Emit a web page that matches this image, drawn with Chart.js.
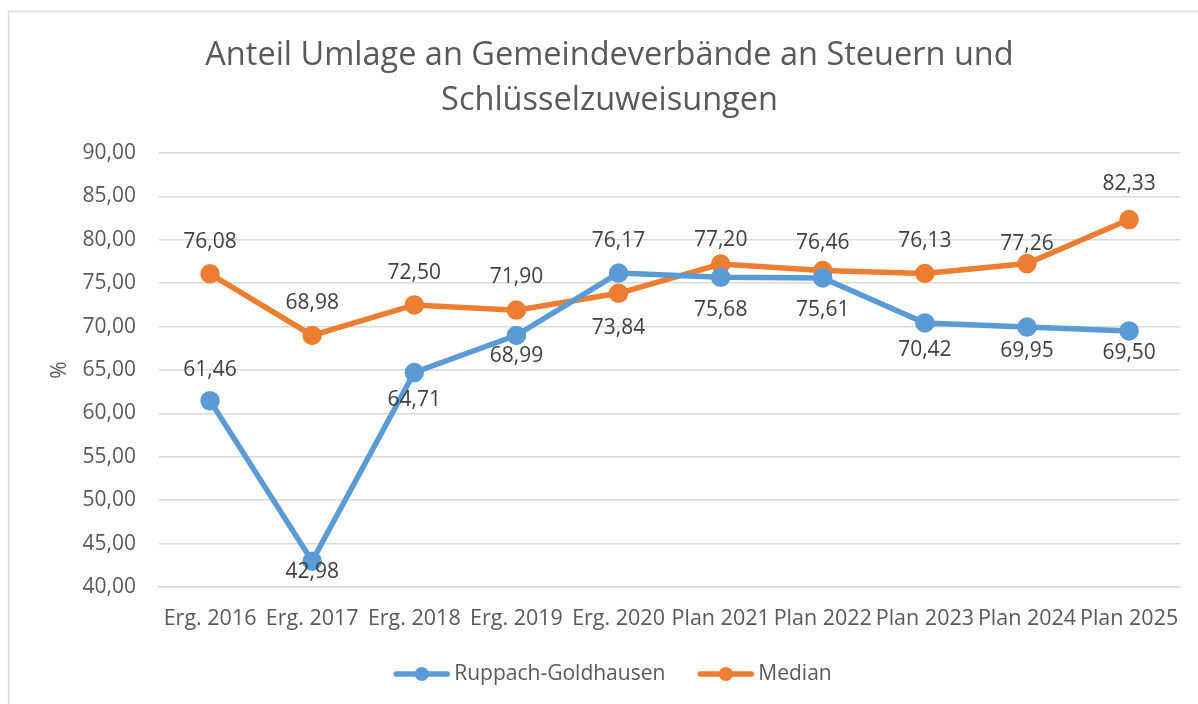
<!DOCTYPE html>
<html>
<head>
<meta charset="utf-8">
<script src="https://cdn.jsdelivr.net/npm/chart.js"></script>
<style>
  html, body { margin: 0; padding: 0; background: #fff; }
  #rahmen { position: relative; width: 1198px; height: 704px; }
</style>
</head>
<body>
<div id="rahmen"><canvas id="grafikUmlage"></canvas></div>
<script>
// --- Daten ---
const kategorien = ['Erg. 2016', 'Erg. 2017', 'Erg. 2018', 'Erg. 2019', 'Erg. 2020',
                    'Plan 2021', 'Plan 2022', 'Plan 2023', 'Plan 2024', 'Plan 2025'];
const werteRuppach = [61.46, 42.98, 64.71, 68.99, 76.17, 75.68, 75.61, 70.42, 69.95, 69.50];
const werteMedian = [76.08, 68.98, 72.50, 71.90, 73.84, 77.20, 76.46, 76.13, 77.26, 82.33];
const yMin = 40, yMax = 90, ySchritt = 5;

// Versatz der Datenbeschriftungen (px, negativ = oberhalb)
const versatzRuppach = [-31, 11, 27, 21, -32, 33, 32, 27, 24, 22];
const versatzMedian = [-32, -32, -32, -33, 35, -24, -28, -32, -20, -36];

const schrift = "'Open Sans', 'Noto Sans', sans-serif";
const textFarbe = '#595959';
const zahl = v => v.toFixed(2).replace('.', ',');

// Rahmen um das Diagramm
const rahmenPlugin = {
  id: 'rahmen',
  beforeDraw(chart) {
    const ctx = chart.ctx;
    ctx.save();
    ctx.fillStyle = '#fff';
    ctx.fillRect(0, 0, chart.width, chart.height);
    ctx.strokeStyle = '#d9d9d9';
    ctx.lineWidth = 1.5;
    ctx.strokeRect(8.5, 11.5, chart.width + 20, chart.height + 20);
    ctx.restore();
  }
};

// Datenbeschriftungen
const beschriftungPlugin = {
  id: 'beschriftung',
  afterDatasetsDraw(chart) {
    const ctx = chart.ctx;
    ctx.save();
    ctx.font = '21px ' + schrift;
    ctx.fillStyle = '#404040';
    ctx.textAlign = 'center';
    ctx.textBaseline = 'middle';
    chart.data.datasets.forEach((ds, i) => {
      const meta = chart.getDatasetMeta(i);
      meta.data.forEach((pt, j) => {
        ctx.fillText(zahl(ds.data[j]), pt.x, pt.y + ds.versatz[j]);
      });
    });
    ctx.restore();
  }
};

// Legende unten (Linie mit Punkt)
const legendePlugin = {
  id: 'legende',
  afterDraw(chart) {
    const ctx = chart.ctx;
    const symbolBreite = 55, abstandText = 5, abstandEintrag = 33;
    ctx.save();
    ctx.font = '21px ' + schrift;
    const eintraege = chart.data.datasets.map(ds => ({
      text: ds.label, farbe: ds.borderColor, breite: ctx.measureText(ds.label).width
    }));
    let gesamt = 0;
    eintraege.forEach((e, i) => {
      gesamt += symbolBreite + abstandText + e.breite + (i > 0 ? abstandEintrag : 0);
    });
    let x = 613 - gesamt / 2;
    const y = 674;
    eintraege.forEach(e => {
      ctx.strokeStyle = e.farbe;
      ctx.lineWidth = 5.5;
      ctx.lineCap = 'round';
      ctx.beginPath();
      ctx.moveTo(x + 2, y);
      ctx.lineTo(x + symbolBreite - 2, y);
      ctx.stroke();
      ctx.fillStyle = e.farbe;
      ctx.beginPath();
      ctx.arc(x + symbolBreite / 2, y, 7, 0, Math.PI * 2);
      ctx.fill();
      ctx.fillStyle = textFarbe;
      ctx.textAlign = 'left';
      ctx.textBaseline = 'middle';
      ctx.fillText(e.text, x + symbolBreite + abstandText, y);
      x += symbolBreite + abstandText + e.breite + abstandEintrag;
    });
    ctx.restore();
  }
};

new Chart(document.getElementById('grafikUmlage'), {
  type: 'line',
  data: {
    labels: kategorien,
    datasets: [{
      label: 'Ruppach-Goldhausen',
      data: werteRuppach,
      versatz: versatzRuppach,
      borderColor: '#5b9bd5',
      backgroundColor: '#5b9bd5',
      borderWidth: 5.5,
      pointRadius: 7,
      pointHoverRadius: 7,
      tension: 0
    }, {
      label: 'Median',
      data: werteMedian,
      versatz: versatzMedian,
      borderColor: '#ed7d31',
      backgroundColor: '#ed7d31',
      borderWidth: 5.5,
      pointRadius: 7,
      pointHoverRadius: 7,
      tension: 0
    }]
  },
  options: {
    responsive: true,
    maintainAspectRatio: false,
    animation: false,
    devicePixelRatio: 1,
    layout: { padding: { left: 36, right: 15, top: 0, bottom: 67 } },
    plugins: {
      legend: { display: false },
      tooltip: { enabled: false },
      title: {
        display: true,
        text: ['Anteil Umlage an Gemeindeverbände an Steuern und', 'Schlüsselzuweisungen'],
        color: textFarbe,
        font: { family: schrift, size: 32.5, weight: 'normal', lineHeight: 1.385 },
        padding: { top: 33, bottom: 30 }
      }
    },
    scales: {
      x: {
        offset: true,
        grid: { display: false, drawTicks: false },
        border: { display: true, color: '#d9d9d9', width: 1.5 },
        ticks: { color: textFarbe, font: { family: schrift, size: 21.5 }, padding: 19, maxRotation: 0, autoSkip: false },
        afterFit(scale) { scale.height = 50; }
      },
      y: {
        min: yMin,
        max: yMax,
        grid: { color: '#d9d9d9', lineWidth: 1.5, drawTicks: false },
        border: { display: false },
        ticks: {
          stepSize: ySchritt,
          color: textFarbe,
          font: { family: schrift, size: 21 },
          padding: 23,
          callback: v => zahl(v)
        },
        title: {
          display: true,
          text: '%',
          color: textFarbe,
          font: { family: schrift, size: 21 },
          padding: { top: 11, bottom: 0 }
        },
        afterFit(scale) { scale.width = 123; }
      }
    }
  },
  plugins: [rahmenPlugin, beschriftungPlugin, legendePlugin]
});
</script>
</body>
</html>
